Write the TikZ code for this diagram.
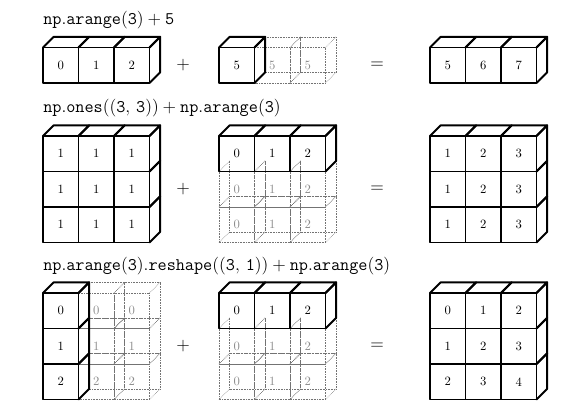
\documentclass[tikz,border=0pt]{standalone}
\newcommand\cubesz{35.5}
\newcommand\cubedp{10.65}
\tikzset{
  cubeedge/.style={line width=1.4pt, line join=round, line cap=round},
  ghostedge/.style={line width=0.45pt, black!55, dash pattern=on 0.45pt off 0.75pt},
  cellnum/.style={inner sep=0pt, font=\fontsize{9.5}{11}\selectfont},
  ghostnum/.style={cellnum, text=black!45},
  titletext/.style={anchor=base west, inner sep=0pt, font=\fontsize{12}{14}\selectfont, scale=1.108, transform shape},
  optext/.style={inner sep=0pt, font=\fontsize{12}{14}\selectfont, scale=1.108, transform shape},
}
% solid cube front face with label: name, x, y, label
\newcommand\scell[4]{%
  \draw[cubeedge] (#2,#3) rectangle ++(\cubesz,\cubesz);
  \node[cellnum] (#1) at (#2+\cubesz/2,#3+\cubesz/2) {#4};}
% solid top face: x, y
\newcommand\ctopface[2]{%
  \draw[cubeedge] (#1,#2) -- ++(\cubedp,-\cubedp) -- ++(\cubesz,0) -- ++(-\cubedp,\cubedp);}
% solid right face: x, y
\newcommand\crightface[2]{%
  \draw[cubeedge] (#1+\cubesz,#2) -- ++(\cubedp,-\cubedp) -- ++(0,\cubesz) -- ++(-\cubedp,\cubedp);}
% ghost (dotted) cube: name, x, y, label, draw back-top edge (1/0)
\newcommand\gcell[5]{%
  \draw[ghostedge] (#2,#3) rectangle ++(\cubesz,\cubesz);
  \draw[ghostedge] (#2+\cubedp,#3-\cubedp) -- ++(0,\cubesz) -- ++(\cubesz,0) -- ++(0,-\cubesz);
  \ifnum#5=1 \draw[ghostedge] (#2+\cubedp,#3-\cubedp) -- ++(\cubesz,0);\fi
  \draw[ghostedge] (#2,#3) -- ++(\cubedp,-\cubedp)
                   (#2+\cubesz,#3) -- ++(\cubedp,-\cubedp)
                   (#2,#3+\cubesz) -- ++(\cubedp,-\cubedp)
                   (#2+\cubesz,#3+\cubesz) -- ++(\cubedp,-\cubedp);
  \node[ghostnum] (#1) at (#2+\cubesz/2,#3+\cubesz/2) {#4};}
\begin{document}
\begin{tikzpicture}[x=0.75pt,y=-0.75pt]
\useasboundingbox (0,0) rectangle (576,411);

% ---------------- titles ----------------
\node[titletext] (t1) at (43,24) {${\tt np.arange(3) + 5}$};
\node[titletext] (t2) at (43,112) {${\tt np.ones((3,\, 3)) + np.arange(3)}$};
\node[titletext] (t3) at (43,270) {${\tt np.arange(3).reshape((3,\, 1)) + np.arange(3)}$};

% ---------------- operators ----------------
\node[optext] (p1) at (183,65.25) {$+$};
\node[optext] (e1) at (377,65.25) {$=$};
\node[optext] (p2) at (183,189.25) {$+$};
\node[optext] (e2) at (377,189.25) {$=$};
\node[optext] (p3) at (183,346.25) {$+$};
\node[optext] (e3) at (377,346.25) {$=$};

% ================= ROW 1 =================
% A: arange(3)
\foreach \c in {0,1,2}{
  \scell{ra\c}{43+\c*35.5}{47.5}{\c}
  \ctopface{43+\c*35.5}{47.5}
}
\crightface{43+2*35.5}{47.5}
% B: 5 broadcast
\foreach \c in {1,2}{
  \gcell{rbg\c}{219+\c*35.5}{47.5}{5}{1}
}
\scell{rb0}{219}{47.5}{5}
\ctopface{219}{47.5}
\crightface{219}{47.5}
% C: result
\foreach \c/\v in {0/5,1/6,2/7}{
  \scell{rc\c}{430+\c*35.5}{47.5}{\v}
  \ctopface{430+\c*35.5}{47.5}
}
\crightface{430+2*35.5}{47.5}

% ================= ROW 2 =================
% A: ones((3,3))
\foreach \r in {0,1,2}{
  \foreach \c in {0,1,2}{
    \scell{sa\r\c}{43+\c*35.5}{136+\r*35.5}{1}
  }
  \crightface{43+2*35.5}{136+\r*35.5}
}
\foreach \c in {0,1,2}{\ctopface{43+\c*35.5}{136}}
% B: arange(3) broadcast down
\foreach \c in {0,1,2}{
  \gcell{sbg1\c}{219+\c*35.5}{136+35.5}{\c}{0}
  \gcell{sbg2\c}{219+\c*35.5}{136+2*35.5}{\c}{1}
}
\foreach \c in {0,1,2}{
  \scell{sb\c}{219+\c*35.5}{136}{\c}
  \ctopface{219+\c*35.5}{136}
}
\crightface{219+2*35.5}{136}
% C: result
\foreach \r in {0,1,2}{
  \foreach \c/\v in {0/1,1/2,2/3}{
    \scell{sc\r\c}{430+\c*35.5}{136+\r*35.5}{\v}
  }
  \crightface{430+2*35.5}{136+\r*35.5}
}
\foreach \c in {0,1,2}{\ctopface{430+\c*35.5}{136}}

% ================= ROW 3 =================
% A: arange(3).reshape((3,1)) broadcast right
\foreach \r in {0,1,2}{
  \gcell{tag\r1}{43+35.5}{293+\r*35.5}{\r}{1}
  \gcell{tag\r2}{43+2*35.5}{293+\r*35.5}{\r}{1}
}
\foreach \r in {0,1,2}{
  \scell{ta\r}{43}{293+\r*35.5}{\r}
  \crightface{43}{293+\r*35.5}
}
\ctopface{43}{293}
% B: arange(3) broadcast down
\foreach \c in {0,1,2}{
  \gcell{tbg1\c}{219+\c*35.5}{293+35.5}{\c}{0}
  \gcell{tbg2\c}{219+\c*35.5}{293+2*35.5}{\c}{1}
}
\foreach \c in {0,1,2}{
  \scell{tb\c}{219+\c*35.5}{293}{\c}
  \ctopface{219+\c*35.5}{293}
}
\crightface{219+2*35.5}{293}
% C: result
\foreach \r in {0,1,2}{
  \foreach \c in {0,1,2}{
    \pgfmathtruncatemacro\vv{\r+\c}
    \scell{tc\r\c}{430+\c*35.5}{293+\r*35.5}{\vv}
  }
  \crightface{430+2*35.5}{293+\r*35.5}
}
\foreach \c in {0,1,2}{\ctopface{430+\c*35.5}{293}}
\end{tikzpicture}
\end{document}
